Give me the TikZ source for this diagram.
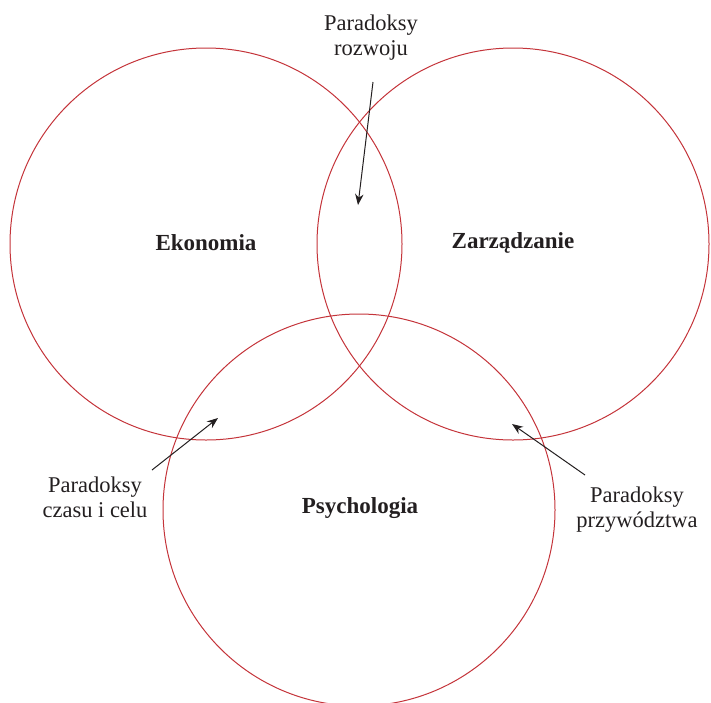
\documentclass[tikz,border=0pt]{standalone}
\usepackage{fontspec}
\setmainfont{Liberation Serif}
\usetikzlibrary{arrows.meta}
\definecolor{ringred}{RGB}{196,52,58}
\definecolor{inkgray}{RGB}{35,31,32}
\begin{document}
\begin{tikzpicture}[x=1pt,y=-1pt,
    ring/.style={draw=ringred, line width=1pt},
    field/.style={font=\fontsize{23}{25}\selectfont\bfseries, text=inkgray},
    note/.style={font=\fontsize{22.5}{25}\selectfont, align=center, text=inkgray},
    pointer/.style={-{Stealth[length=11pt,width=8.5pt]}, line width=1pt, draw=inkgray}]
\useasboundingbox (0,0) rectangle (711,702);
\clip (0,0) rectangle (711,702);

% three overlapping fields
\foreach \cx/\cy in {206/244, 513/244, 359/510}
    \draw[ring] (\cx,\cy) circle [radius=196pt];

\node[field] (eko) at (206,243) {Ekonomia};
\node[field] (zarz) at (513,243) {Zarządzanie};
\node[field] (psych) at (360,508) {Psychologia};

% paradox labels
\node[note] (rozwoj) at (371,38) {Paradoksy\\rozwoju};
\node[note] (czas) at (95,497) {Paradoksy\\czasu i celu};
\node[note] (przyw) at (637,510) {Paradoksy\\przywództwa};

\coordinate (rozwojTail) at (373,82);
\coordinate (rozwojHead) at (358,205);
\coordinate (czasTail) at (152,470);
\coordinate (czasHead) at (218,418);
\coordinate (przywTail) at (585,475);
\coordinate (przywHead) at (512,424);

\draw[pointer] (rozwojTail) -- (rozwojHead);
\draw[pointer] (czasTail) -- (czasHead);
\draw[pointer] (przywTail) -- (przywHead);
\end{tikzpicture}
\end{document}
